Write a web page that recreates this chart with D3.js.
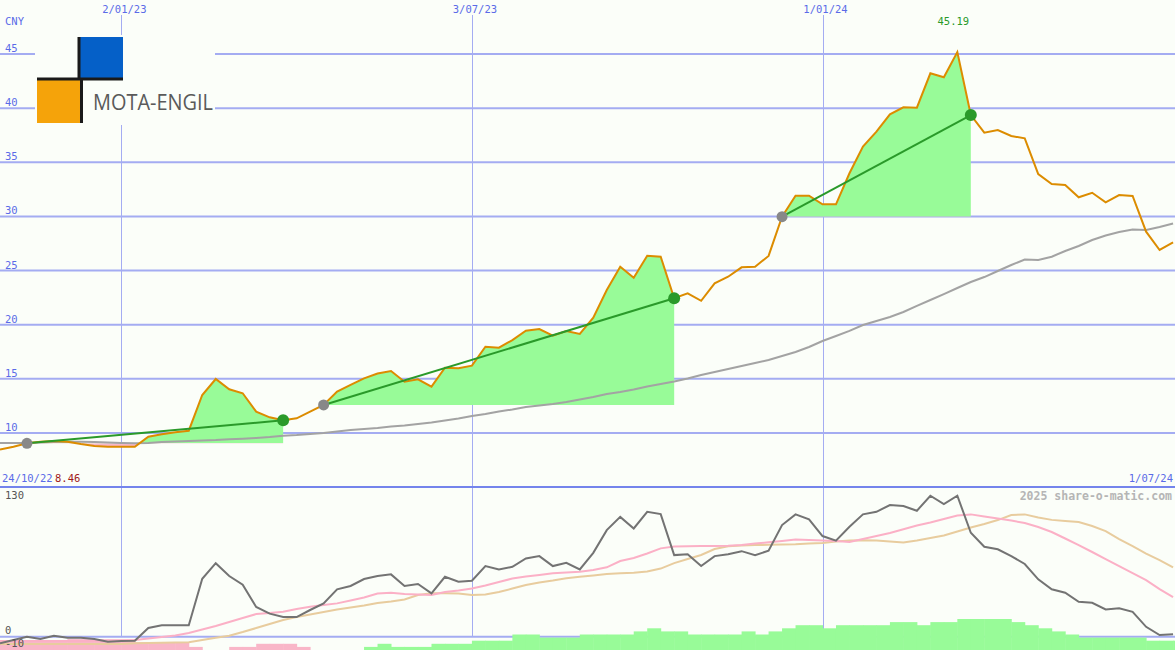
<!DOCTYPE html>
<html><head><meta charset="utf-8">
<script src="https://cdn.jsdelivr.net/npm/d3@7"></script>
<style>
html,body{margin:0;padding:0;background:#fbfef9;}
svg{display:block;}
</style></head>
<body>
<svg id="chart" width="1175" height="650"></svg>
<script>
// ---------------- DATA ----------------
const startDate = new Date(2022, 9, 31);
const endDate = new Date(2024, 6, 2);
const dates = d3.timeMonday.range(startDate, endDate); // weekly categories (88)

const price = [8.46,8.72,9.04,9.19,9.25,9.19,8.97,8.79,8.72,8.72,
  8.72,9.65,9.87,10.05,10.2,13.5,14.98,14.03,13.66,11.96,
  11.44,11.16,11.35,11.96,12.58,13.81,14.43,15.04,15.49,15.72,
  14.73,14.95,14.27,16.02,15.97,16.21,17.96,17.87,18.58,19.44,
  19.6,18.98,19.41,19.14,20.64,23.2,25.36,24.34,26.37,26.28,
  22.44,22.9,22.21,23.82,24.43,25.3,25.36,26.35,29.98,31.92,
  31.92,31.12,31.12,33.99,36.45,37.83,39.44,40.09,40.05,43.23,
  42.86,45.19,39.37,37.74,37.99,37.43,37.22,33.92,33.0,32.91,
  31.77,32.19,31.31,31.98,31.89,28.59,26.9,27.61];

const movingAvg = [9.07,9.07,9.07,9.11,9.16,9.19,9.19,9.16,9.11,9.07,
  9.04,9.07,9.16,9.2,9.25,9.3,9.34,9.41,9.46,9.53,
  9.62,9.74,9.8,9.9,9.99,10.13,10.27,10.36,10.45,10.59,
  10.68,10.82,10.96,11.14,11.33,11.56,11.75,11.98,12.16,12.39,
  12.53,12.67,12.85,13.09,13.32,13.59,13.78,14.01,14.28,14.52,
  14.75,15.03,15.35,15.63,15.9,16.18,16.46,16.74,17.1,17.47,
  17.94,18.49,18.95,19.42,19.97,20.34,20.71,21.17,21.73,22.28,
  22.83,23.39,23.94,24.4,24.96,25.51,26.02,25.98,26.28,26.81,
  27.27,27.82,28.24,28.56,28.79,28.75,29.03,29.35];

// trend segments: [start index, end index]
const trendStarts = [2, 24, 58];
const trendEnds = [21, 50, 72];

const priceTicks = [10,15,20,25,30,35,40,45];
const dateTicks = [new Date(2023,0,2), new Date(2023,6,3), new Date(2024,0,1)];
const dateTickLabels = ["2/01/23","3/07/23","1/01/24"];

const oscillator = [-6.4,-3.2,0,-2.2,1,-1,-1,-2.2,-4.8,-4.2,
  -3.9,8.4,11,11,11,56,71,58.6,50.3,28.7,
  22.3,19,19,25.8,32.2,45.8,49,55.7,58.6,60.2,
  49,50.9,41.9,57.9,53.1,54,68.2,65,67.5,75.6,
  77.8,68.2,71.4,65,81,102.9,115.7,104.5,120.6,118.4,
  78.8,79.7,68.2,77.8,79.7,82.6,78.8,83,107.8,118.1,
  113.3,97.2,92.7,106.2,118.1,120.6,127.1,126.1,121.6,136.1,
  128.1,136.1,100.4,86.9,84.4,77.9,70.2,55.4,45.8,42.5,
  33.8,32.8,26.4,27.4,24.1,9.6,1.6,2.3];

const signalFast = [-4.2,-4.2,-4.2,-4.2,-4.2,-4.2,-4.2,-4.2,-4.2,-4.2,
  -3.2,-1.7,-0.3,1.2,3.6,6.9,10.3,14.2,18.1,21.9,
  22.9,24.1,26.7,29,30.6,32.2,34.9,37.8,41.7,42.5,
  41.2,40.7,40.3,43.1,44.6,46.5,49.4,52.8,56.2,58.1,
  59.6,61.2,62,62.7,64.4,67,73.1,76,80.3,85.3,
  87.1,87.4,87.5,87.5,87.8,88.5,90,91.1,92.4,93.8,
  93.3,92.9,92.4,91.4,94.3,97.2,100.1,103.7,107.3,110.2,
  113.6,117,118.1,116,114.1,112.2,109.7,105.9,101.1,94.8,
  88.5,81.8,75,68.2,61.5,54.7,46,38.3];

const signalSlow = [-7,-7,-7,-7,-7,-7,-7,-7,-7,-7,
  -6.4,-6.1,-5.8,-5.6,-5.4,-3.2,-1,1,4.5,8.4,
  12.3,16.1,19,21.4,23.8,26.3,28.2,30.1,32.5,34,
  35.9,40.3,41.9,41.9,41.7,40.3,40.7,43.1,46.5,49.9,
  52.3,54.2,56.4,57.8,59.1,60.5,61.2,61.8,62.9,65.8,
  71.1,75,78.9,84.7,87.4,88,88.5,88.7,89,89.2,
  90,90.4,91.9,92.9,93.1,92.9,91.9,90.9,92.9,95.3,
  97.7,101.5,105.4,108.8,112.6,117.5,118.1,115.1,112.8,111.7,
  110.7,106.9,102,94.3,87.5,80.3,74,66.9];

const histogram = [-3,-3,-3,-3,-3,-3.5,-3.5,-3.5,-3.5,-3.5,
  -2.5,-2.5,-2.5,-2.5,-1,0,0,-1,-1,-2,
  -2,-2,-1,0,0,0,0,1,2,1,
  1,1,2,2,2,3,3,3,5,5,
  4,4,4,5,5,5,5,6,7,6,
  6,5,5,5,5,6,5,6,7,8,
  8,7,8,8,8,8,9,9,8,9,
  9,10,10,10,10,9,8,7,6,5,
  4,4,4,4,4,3,3,3];

const lowerTicks = [130, 0, -10];

// ---------------- CHART ----------------
const W = 1175, H = 650;
const svg = d3.select("#chart");
const bg = "#fbfef9";
svg.append("rect").attr("width", W).attr("height", H).attr("fill", bg);

const x = d3.scaleTime().domain([startDate, endDate]).range([0, W]);
const y = d3.scaleLinear().domain([5, 50]).range([487, 0]);
const yLow = d3.scaleLinear().domain([-12.8, 142.6]).range([650, 489]);
const yHist = d3.scaleLinear().domain([0, 10]).range([650, 619]);

const gridCol = "#a4acf2";
const labelCol = "#5a6be8";
const mono = "'DejaVu Sans Mono', 'Liberation Mono', monospace";

// horizontal grid lines (main)
svg.append("g").selectAll("line").data(priceTicks).join("line")
  .attr("x1", 0).attr("x2", W)
  .attr("y1", d => y(d)).attr("y2", d => y(d))
  .attr("stroke", gridCol).attr("stroke-width", 2);

// vertical grid lines
svg.append("g").selectAll("line").data(dateTicks).join("line")
  .attr("x1", d => Math.round(x(d)) + 0.5).attr("x2", d => Math.round(x(d)) + 0.5)
  .attr("y1", 15).attr("y2", yLow(0))
  .attr("stroke", gridCol).attr("stroke-width", 1);

// lower zero line
svg.append("line").attr("x1", 0).attr("x2", W)
  .attr("y1", yLow(0)).attr("y2", yLow(0))
  .attr("stroke", gridCol).attr("stroke-width", 2);

// histogram bars (from panel bottom)
const step = x(dates[1]) - x(dates[0]);
svg.append("g").selectAll("rect").data(histogram.map((v, i) => ({v, d: dates[i]})).filter(o => o.v !== 0))
  .join("rect")
  .attr("x", o => x(o.d)).attr("width", step + 0.5)
  .attr("y", o => yHist(Math.abs(o.v)))
  .attr("height", o => H - yHist(Math.abs(o.v)))
  .attr("fill", o => o.v > 0 ? "#98fb98" : "#f9b6c8");

// trend fills
const fills = svg.append("g");
trendStarts.forEach((s, i) => {
  const e = trendEnds[i];
  const base = price[s];
  const pts = d3.range(s, e + 1).map(k => ({d: dates[k], v: price[k]}));
  const area = d3.area().x(p => x(p.d)).y0(y(base)).y1(p => y(p.v));
  const idUp = "clipUp" + i, idDn = "clipDn" + i;
  const defs = svg.append("defs");
  defs.append("clipPath").attr("id", idUp).append("rect")
    .attr("x", 0).attr("y", 0).attr("width", W).attr("height", y(base));
  defs.append("clipPath").attr("id", idDn).append("rect")
    .attr("x", 0).attr("y", y(base)).attr("width", W).attr("height", 487 - y(base));
  fills.append("path").datum(pts).attr("d", area).attr("fill", "#98fb98").attr("clip-path", `url(#${idUp})`);
  fills.append("path").datum(pts).attr("d", area).attr("fill", "#f9b6c8").attr("clip-path", `url(#${idDn})`);
});

// moving average (main)
svg.append("path").datum(movingAvg)
  .attr("d", d3.line().x((v, i) => x(dates[i])).y(v => y(v)))
  .attr("fill", "none").attr("stroke", "#a3a3a3").attr("stroke-width", 2);

// price line
svg.append("path").datum(price)
  .attr("d", d3.line().x((v, i) => x(dates[i])).y(v => y(v)))
  .attr("fill", "none").attr("stroke", "#dc8c00").attr("stroke-width", 2);

// trend lines and dots
trendStarts.forEach((s, i) => {
  const e = trendEnds[i];
  svg.append("line")
    .attr("x1", x(dates[s])).attr("y1", y(price[s]))
    .attr("x2", x(dates[e])).attr("y2", y(price[e]))
    .attr("stroke", "#2a9a2a").attr("stroke-width", 2);
  svg.append("circle").attr("cx", x(dates[s])).attr("cy", y(price[s])).attr("r", 5.5).attr("fill", "#888888");
  svg.append("circle").attr("cx", x(dates[e])).attr("cy", y(price[e])).attr("r", 6).attr("fill", "#2a9a2a");
});

// lower panel lines
const lowLine = d3.line().x((v, i) => x(dates[i])).y(v => yLow(v));
svg.append("path").datum(signalSlow).attr("d", lowLine)
  .attr("fill", "none").attr("stroke", "#e8cc9e").attr("stroke-width", 2);
svg.append("path").datum(signalFast).attr("d", lowLine)
  .attr("fill", "none").attr("stroke", "#fbb0c6").attr("stroke-width", 2);
svg.append("path").datum(oscillator).attr("d", lowLine)
  .attr("fill", "none").attr("stroke", "#737373").attr("stroke-width", 2);

// separator
svg.append("line").attr("x1", 0).attr("x2", W).attr("y1", 487).attr("y2", 487)
  .attr("stroke", "#7484ec").attr("stroke-width", 2);

// ---------- text ----------
const txt = (t, xx, yy, col, opts = {}) => svg.append("text").text(t)
  .attr("x", xx).attr("y", yy).attr("fill", col)
  .attr("font-family", mono).attr("font-size", opts.size || 10.5)
  .attr("font-weight", opts.weight || "normal")
  .attr("text-anchor", opts.anchor || "start");

dateTicks.forEach((d, i) => txt(dateTickLabels[i], x(d) + 3, 13, labelCol, {anchor: "middle"}));
txt("CNY", 5, 25, labelCol);
priceTicks.forEach(v => txt(String(v), 5, y(v) - 2, labelCol));

const peakIdx = price.indexOf(d3.max(price));
txt(d3.max(price).toFixed(2), x(dates[peakIdx]) - 4, 25, "#2a9a2a", {anchor: "middle"});

txt("24/10/22", 2, 482, labelCol);
txt(price[0].toFixed(2), 55, 482, "#a01818");
txt("1/07/24", 1173, 482, labelCol, {anchor: "end"});

txt(String(lowerTicks[0]), 5, 499, "#555555");
txt(String(lowerTicks[1]), 5, 634, "#555555");
txt(String(lowerTicks[2]), 5, 647, "#555555");
txt("2025 share-o-matic.com", 1172, 500, "#b5b5b5", {anchor: "end", weight: "bold", size: 11.5});

// ---------- logo ----------
const logo = svg.append("g");
logo.append("rect").attr("x", 35).attr("y", 35).attr("width", 180).attr("height", 90).attr("fill", bg);
logo.append("rect").attr("x", 80).attr("y", 37).attr("width", 43).attr("height", 43).attr("fill", "#0560c8");
logo.append("rect").attr("x", 37).attr("y", 80).attr("width", 43).attr("height", 43).attr("fill", "#f5a30a");
logo.append("rect").attr("x", 77.5).attr("y", 37).attr("width", 3).attr("height", 43).attr("fill", "#1a1a1a");
logo.append("rect").attr("x", 37).attr("y", 77.5).attr("width", 86).attr("height", 3).attr("fill", "#1a1a1a");
logo.append("rect").attr("x", 80).attr("y", 80).attr("width", 3).attr("height", 43).attr("fill", "#1a1a1a");
logo.append("text").text("MOTA-ENGIL").attr("x", 93).attr("y", 110)
  .attr("font-family", "'Open Sans', 'Noto Sans', sans-serif").attr("font-size", 21)
  .attr("textLength", 120).attr("lengthAdjust", "spacingAndGlyphs")
  .attr("fill", "#5a5a5a");
</script>
</body></html>
